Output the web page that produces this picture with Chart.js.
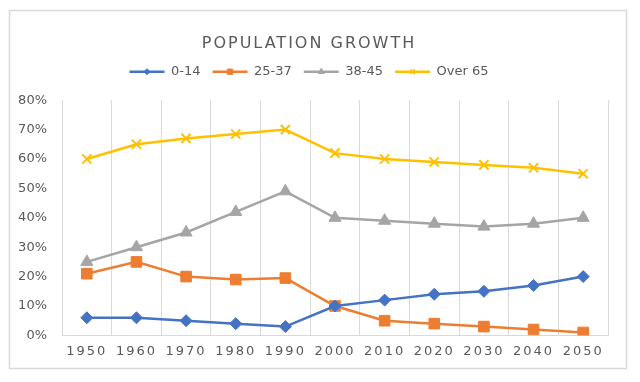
<!DOCTYPE html>
<html>
<head>
<meta charset="utf-8">
<script src="https://cdn.jsdelivr.net/npm/chart.js@4/dist/chart.umd.min.js"></script>
<style>
html,body{margin:0;padding:0;background:#fff;}
#wrap{width:640px;height:382px;position:relative;}
</style>
</head>
<body>
<div id="wrap"><canvas id="c" width="640" height="382"></canvas></div>
<script>
const years = ['1950','1960','1970','1980','1990','2000','2010','2020','2030','2040','2050'];
const age0to14 = [6, 6, 5, 4, 3, 10, 12, 14, 15, 17, 20];
const age25to37 = [21, 25, 20, 19, 19.5, 10, 5, 4, 3, 2, 1];
const age38to45 = [25, 30, 35, 42, 49, 40, 39, 38, 37, 38, 40];
const over65 = [60, 65, 67, 68.5, 70, 62, 60, 59, 58, 57, 55];
const yTicks = [0, 10, 20, 30, 40, 50, 60, 70, 80];

const TXT = '#595959';
const FONT = "'DejaVu Sans', sans-serif";

function withSpacing(obj, fnName, spacing) {
  if (!obj || obj['_patched_' + fnName]) return;
  const orig = obj[fnName];
  obj[fnName] = function () {
    const ctx = this.ctx;
    const prev = ctx.letterSpacing;
    ctx.letterSpacing = spacing;
    const r = orig.apply(this, arguments);
    ctx.letterSpacing = prev;
    return r;
  };
  obj['_patched_' + fnName] = true;
}

const framePlugin = {
  id: 'frame',
  beforeLayout(chart) {
    const lg = chart.legend;
    if (lg && !lg._patchedFit) {
      const of = lg.fit;
      lg.fit = function () { of.apply(this, arguments); this.height += 12; };
      lg._patchedFit = true;
    }
  },
  beforeDraw(chart) {
    withSpacing(chart.titleBlock, 'draw', '2px');
    withSpacing(chart.scales.x, 'drawLabels', '2px');
    const ctx = chart.ctx;
    ctx.save();
    ctx.strokeStyle = '#d9d9d9';
    ctx.lineWidth = 1.5;
    ctx.strokeRect(9.5, 10.5, 617, 358);
    ctx.restore();
  },
  beforeDatasetsDraw(chart) {
    const lg = chart.legend;
    if (!lg || !lg.legendHitBoxes) return;
    const ctx = chart.ctx;
    lg.legendHitBoxes.forEach((hb, i) => {
      const ds = chart.data.datasets[i];
      const cx = hb.left + lg.options.labels.boxWidth / 2;
      const cy = hb.top + hb.height / 2;
      ctx.save();
      ctx.fillStyle = ds.backgroundColor;
      ctx.strokeStyle = ds.borderColor;
      ctx.lineWidth = ds.pointStyle === 'crossRot' ? 1.5 : 1;
      Chart.helpers.drawPoint(ctx, { pointStyle: ds.pointStyle, radius: ds.pointRadius * 0.5, rotation: 0, borderWidth: ctx.lineWidth }, cx, cy);
      ctx.restore();
    });
  }
};

function ds(label, data, color, style, r) {
  return {
    label, data,
    borderColor: color, backgroundColor: color,
    pointBackgroundColor: color, pointBorderColor: color,
    pointStyle: style, pointRadius: r, pointHoverRadius: r,
    pointBorderWidth: style === 'crossRot' ? 2 : 1,
    borderWidth: 2.5, tension: 0
  };
}

new Chart(document.getElementById('c'), {
  type: 'line',
  data: {
    labels: years,
    datasets: [
      ds('0-14', age0to14, '#4472C4', 'rectRot', 6),
      ds('25-37', age25to37, '#ED7D31', 'rect', 7.5),
      ds('38-45', age38to45, '#A5A5A5', 'triangle', 7),
      ds('Over 65', over65, '#FFC000', 'crossRot', 6.5)
    ]
  },
  options: {
    responsive: false,
    animation: false,
    layout: { padding: { left: 10, right: 32, top: 34, bottom: 15 } },
    plugins: {
      title: {
        display: true, text: 'POPULATION GROWTH', color: TXT,
        font: { family: FONT, size: 16, weight: 'normal' },
        padding: { top: 0, bottom: 0 }
      },
      legend: {
        position: 'top',
        labels: {
          color: TXT,
          font: { family: FONT, size: 13 },
          boxWidth: 35, boxHeight: 2.5, padding: 12,
          generateLabels(chart) {
            return chart.data.datasets.map((d, i) => ({
              text: d.label, fillStyle: d.borderColor, strokeStyle: d.borderColor,
              lineWidth: 0, hidden: false, datasetIndex: i, fontColor: TXT
            }));
          }
        }
      },
      tooltip: { enabled: false }
    },
    scales: {
      x: {
        offset: true,
        grid: { display: true, offset: true, color: '#d9d9d9', drawTicks: false, lineWidth: 1 },
        border: { display: true, color: '#d9d9d9' },
        ticks: { color: TXT, font: { family: FONT, size: 13 }, padding: 8 }
      },
      y: {
        min: 0, max: 80,
        afterFit(s) { s.width = 52; },
        afterBuildTicks(s) { s.ticks = yTicks.map(v => ({ value: v })); },
        grid: { display: false, drawTicks: false },
        border: { display: false },
        ticks: { color: TXT, font: { family: FONT, size: 13 }, padding: 15, callback: v => v + '%' }
      }
    }
  },
  plugins: [framePlugin]
});
</script>
</body>
</html>
